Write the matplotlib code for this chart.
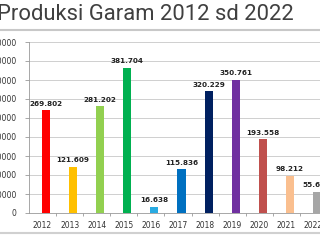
import matplotlib
matplotlib.use("Agg")
import matplotlib.pyplot as plt
from matplotlib.lines import Line2D

years = ["2012", "2013", "2014", "2015", "2016", "2017", "2018", "2019", "2020", "2021", "2022"]
values = [269802, 121609, 281202, 381704, 16638, 115836, 320229, 350761, 193558, 98212, 55639]
value_labels = ["269.802", "121.609", "281.202", "381.704", "16.638", "115.836",
                "320.229", "350.761", "193.558", "98.212", "55.639"]
colors = ["#ff0000", "#ffc000", "#92d050", "#00b050", "#29abe2", "#0070c0",
          "#002060", "#7030a0", "#c0504d", "#fabf8f", "#a6a6a6"]
yticks = [0, 50000, 100000, 150000, 200000, 250000, 300000, 350000, 400000, 450000]
title = "Produksi Garam 2012 sd 2022"

W, H = 320, 240
fig = plt.figure(figsize=(W / 100, H / 100), dpi=100)
fig.patch.set_facecolor("white")

left_px, right_px = 29, 327
top_px, bottom_px = 42, 213
ax = fig.add_axes([left_px / W, 1 - bottom_px / H, (right_px - left_px) / W, (bottom_px - top_px) / H])
ax.set_facecolor("white")

x = list(range(len(years)))
bar_x = [i + 0.13 for i in x]
ax.bar(bar_x, values, width=0.3, color=colors, zorder=3)
for bx, v, lab in zip(bar_x, values, value_labels):
    ax.annotate(lab, (bx, v), xytext=(0, 2.5), textcoords="offset points",
                ha="center", va="bottom", fontsize=5.2, fontweight="bold", color="#222222",
                annotation_clip=False)

ax.set_xlim(-0.5, len(years) - 0.5)
ax.set_ylim(0, 450000)
ax.set_yticks(yticks)
ax.set_yticklabels([str(t) for t in yticks], fontsize=5.5, color="#333333")
ax.set_xticks(x)
ax.set_xticklabels(years, fontsize=5.5, color="#333333")
ax.tick_params(axis="x", length=0, pad=5.5)
ax.tick_params(axis="y", length=3, width=0.6, color="#999999", pad=6)
ax.set_xticks([i + 0.5 for i in x[:-1]], minor=True)
ax.tick_params(axis="x", which="minor", length=2.5, width=0.6, color="#999999")
ax.yaxis.grid(True, color="#c8c8c8", linewidth=0.6, zorder=0)
for s in ["top", "right"]:
    ax.spines[s].set_visible(False)
ax.spines["left"].set_color("#999999")
ax.spines["left"].set_linewidth(0.6)
ax.spines["bottom"].set_color("#999999")
ax.spines["bottom"].set_linewidth(0.6)

fig.text(-3 / W, 1 - 14.5 / H, title, fontsize=15.8, family=["Roboto", "DejaVu Sans"],
         color="#404040", ha="left", va="center")
fig.add_artist(Line2D([0, 1], [1 - 30 / H, 1 - 30 / H], transform=fig.transFigure,
                      color="#c8c8c8", linewidth=1.5))
fig.add_artist(Line2D([0, 1], [1 - 233 / H, 1 - 233 / H], transform=fig.transFigure,
                      color="#d0d0d0", linewidth=1.5))

fig.savefig("out.png", dpi=100)
